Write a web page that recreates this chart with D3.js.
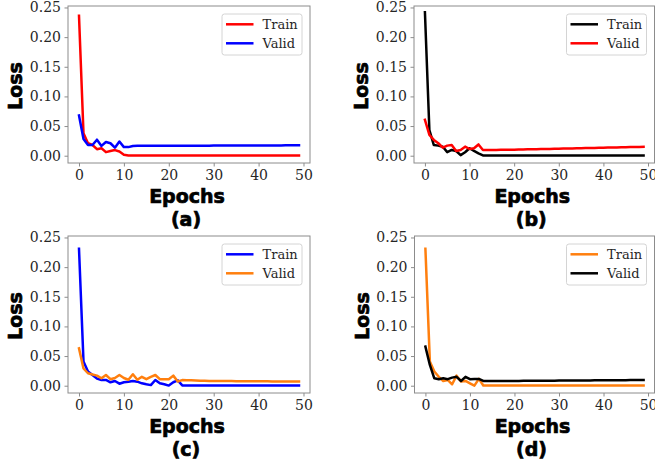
<!DOCTYPE html>
<html>
<head>
<meta charset="utf-8">
<script src="https://cdn.jsdelivr.net/npm/d3@7"></script>
<style>
  html, body { margin: 0; padding: 0; background: #fff; }
  svg { display: block; }
</style>
</head>
<body>
<svg id="chart" width="655" height="464"></svg>
<script>
// Loss curves for four training runs, 50 epochs each.
const xTicks = [0, 10, 20, 30, 40, 50];
const yTicks = [0.00, 0.05, 0.10, 0.15, 0.20, 0.25];
const seriesNames = ["Train", "Valid"];
const panelLetters = ["(a)", "(b)", "(c)", "(d)"];

const trainA = [
  0.236, 0.038, 0.021, 0.018, 0.011, 0.0125, 0.006, 0.008, 0.0095, 0.007,
  0.0015, 0.0005, 0.0004, 0.0004, 0.0003, 0.0003, 0.0003, 0.0003, 0.0003, 0.0003,
  0.0003, 0.0003, 0.0003, 0.0003, 0.0003, 0.0003, 0.0003, 0.0003, 0.0003, 0.0003,
  0.0003, 0.0003, 0.0003, 0.0003, 0.0003, 0.0003, 0.0003, 0.0003, 0.0003, 0.0003,
  0.0003, 0.0003, 0.0003, 0.0003, 0.0003, 0.0003, 0.0003, 0.0003, 0.0003, 0.0003
];
const validA = [
  0.068, 0.028, 0.018, 0.018, 0.027, 0.0165, 0.023, 0.021, 0.0135, 0.024,
  0.0145, 0.0145, 0.0165, 0.017, 0.017, 0.017, 0.017, 0.017, 0.017, 0.017,
  0.017, 0.017, 0.017, 0.017, 0.017, 0.017, 0.017, 0.017, 0.017, 0.017,
  0.0171, 0.0171, 0.0171, 0.0171, 0.0171, 0.0172, 0.0172, 0.0172, 0.0172, 0.0172,
  0.0173, 0.0173, 0.0173, 0.0174, 0.0174, 0.0174, 0.0175, 0.0175, 0.0175, 0.0175
];
const trainB = [
  0.242, 0.043, 0.018, 0.017, 0.015, 0.006, 0.0097, 0.008, 0.001, 0.0058,
  0.0125, 0.008, 0.004, 0.0005, 0.0003, 0.0003, 0.0003, 0.0003, 0.0003, 0.0003,
  0.0003, 0.0003, 0.0003, 0.0003, 0.0003, 0.0003, 0.0003, 0.0003, 0.0003, 0.0003,
  0.0003, 0.0003, 0.0003, 0.0003, 0.0003, 0.0003, 0.0003, 0.0003, 0.0003, 0.0003,
  0.0003, 0.0003, 0.0003, 0.0003, 0.0003, 0.0003, 0.0003, 0.0003, 0.0003, 0.0003
];
const validB = [
  0.0605, 0.035, 0.0266, 0.021, 0.0136, 0.017, 0.018, 0.008, 0.0097, 0.0153,
  0.0113, 0.0125, 0.019, 0.0097, 0.0097, 0.0098, 0.0098, 0.0099, 0.0099, 0.0100,
  0.0102, 0.0103, 0.0105, 0.0107, 0.0108, 0.0110, 0.0112, 0.0113, 0.0115, 0.0117,
  0.0118, 0.0120, 0.0122, 0.0123, 0.0125, 0.0127, 0.0128, 0.0130, 0.0132, 0.0133,
  0.0135, 0.0137, 0.0138, 0.0140, 0.0142, 0.0143, 0.0145, 0.0147, 0.0148, 0.0150
];
const trainC = [
  0.231, 0.041, 0.024, 0.018, 0.012, 0.0097, 0.0097, 0.0058, 0.008, 0.0034,
  0.0058, 0.0068, 0.008, 0.0068, 0.004, 0.0024, 0.001, 0.0097, 0.004, 0.0024,
  0.0002, 0.0058, 0.009, 0.0005, 0.0003, 0.0003, 0.0003, 0.0003, 0.0003, 0.0003,
  0.0003, 0.0003, 0.0003, 0.0003, 0.0003, 0.0003, 0.0003, 0.0003, 0.0003, 0.0003,
  0.0003, 0.0003, 0.0003, 0.0003, 0.0003, 0.0003, 0.0003, 0.0003, 0.0003, 0.0003
];
const validC = [
  0.063, 0.029, 0.021, 0.019, 0.017, 0.0125, 0.018, 0.011, 0.013, 0.018,
  0.013, 0.010, 0.0193, 0.010, 0.015, 0.011, 0.015, 0.018, 0.011, 0.011,
  0.011, 0.017, 0.007, 0.0095, 0.0092, 0.0090, 0.0088, 0.0085, 0.0083, 0.0080,
  0.0080, 0.0079, 0.0079, 0.0078, 0.0078, 0.0077, 0.0077, 0.0076, 0.0076, 0.0075,
  0.0075, 0.0074, 0.0074, 0.0073, 0.0073, 0.0072, 0.0072, 0.0071, 0.0071, 0.0070
];
const trainD = [
  0.231, 0.041, 0.024, 0.015, 0.008, 0.0097, 0.0024, 0.017, 0.007, 0.008,
  0.004, 0.0002, 0.0115, 0.0003, 0.0003, 0.0003, 0.0003, 0.0003, 0.0003, 0.0003,
  0.0003, 0.0003, 0.0003, 0.0003, 0.0003, 0.0003, 0.0003, 0.0003, 0.0003, 0.0003,
  0.0003, 0.0003, 0.0003, 0.0003, 0.0003, 0.0003, 0.0003, 0.0003, 0.0003, 0.0003,
  0.0003, 0.0003, 0.0003, 0.0003, 0.0003, 0.0003, 0.0003, 0.0003, 0.0003, 0.0003
];
const validD = [
  0.066, 0.035, 0.0125, 0.011, 0.0125, 0.011, 0.0136, 0.015, 0.008, 0.015,
  0.011, 0.0115, 0.0115, 0.008, 0.008, 0.008, 0.008, 0.008, 0.008, 0.008,
  0.0081, 0.0081, 0.0082, 0.0082, 0.0083, 0.0083, 0.0084, 0.0084, 0.0085, 0.0085,
  0.0086, 0.0086, 0.0087, 0.0087, 0.0088, 0.0088, 0.0089, 0.0089, 0.0090, 0.0090,
  0.0091, 0.0091, 0.0092, 0.0092, 0.0093, 0.0094, 0.0095, 0.0096, 0.0097, 0.0097
];

const panels = [
  { letter: panelLetters[0], train: trainA, valid: validA, colors: ["#ff0000", "#0000ff"], box: [68, 310, 6, 163] },
  { letter: panelLetters[1], train: trainB, valid: validB, colors: ["#000000", "#ff0000"], box: [414, 654.5, 6, 163] },
  { letter: panelLetters[2], train: trainC, valid: validC, colors: ["#0000ff", "#ff7f0e"], box: [68, 310, 236, 393] },
  { letter: panelLetters[3], train: trainD, valid: validD, colors: ["#ff7f0e", "#000000"], box: [414.5, 654.5, 236, 393] }
];

const svg = d3.select("#chart");
svg.append("rect").attr("width", 655).attr("height", 464).attr("fill", "#fff");

const serif = "'DejaVu Serif', serif";
const sans = "'DejaVu Sans', sans-serif";
const frameColor = "#8c8c8c";

panels.forEach(p => {
  const [x0, x1, y0, y1] = p.box;
  const x = d3.scaleLinear().domain([-2.45, 51.45]).range([x0, x1]);
  const y = d3.scaleLinear().domain([-0.0123, 0.2525]).range([y1, y0]);
  const g = svg.append("g");

  // axes
  const xAxis = d3.axisBottom(x).tickValues(xTicks).tickSize(3.5).tickPadding(4).tickFormat(d3.format("d"));
  const yAxis = d3.axisLeft(y).tickValues(yTicks).tickSize(3.5).tickPadding(3.5).tickFormat(d3.format(".2f"));

  const gx = g.append("g").attr("transform", `translate(0,${y1})`).call(xAxis);
  const gy = g.append("g").attr("transform", `translate(${x0},0)`).call(yAxis);
  [gx, gy].forEach(a => {
    a.select(".domain").remove();
    a.selectAll(".tick line").attr("stroke", frameColor).attr("stroke-width", 1);
    a.selectAll(".tick text")
      .attr("fill", "#262626")
      .style("font-family", serif)
      .style("font-size", "14px");
  });

  // lines
  const line = d3.line()
    .x((d, i) => x(i))
    .y(d => y(d));
  [p.train, p.valid].forEach((series, k) => {
    g.append("path")
      .datum(series)
      .attr("d", line)
      .attr("fill", "none")
      .attr("stroke", p.colors[k])
      .attr("stroke-width", 2.5)
      .attr("stroke-linejoin", "round")
      .attr("stroke-linecap", "square");
  });

  // frame
  g.append("rect")
    .attr("x", x0).attr("y", y0)
    .attr("width", x1 - x0).attr("height", y1 - y0)
    .attr("fill", "none")
    .attr("stroke", frameColor)
    .attr("stroke-width", 1);

  // legend
  const lw = 80, lh = 41;
  const lx = x1 - 8 - lw, ly = y0 + 8;
  const leg = g.append("g").attr("transform", `translate(${lx},${ly})`);
  leg.append("rect")
    .attr("x", 0).attr("y", 0).attr("width", lw).attr("height", lh)
    .attr("rx", 2.5)
    .attr("fill", "#fff").attr("fill-opacity", 0.8)
    .attr("stroke", "#d4d4d4").attr("stroke-width", 1);
  seriesNames.forEach((name, k) => {
    const cy = 10.3 + k * 19;
    leg.append("line")
      .attr("x1", 4).attr("x2", 31.5).attr("y1", cy).attr("y2", cy)
      .attr("stroke", p.colors[k]).attr("stroke-width", 2.5);
    leg.append("text")
      .attr("x", 40.5).attr("y", cy + 4.5)
      .attr("fill", "#262626")
      .style("font-family", serif)
      .style("font-size", "13px")
      .text(name);
  });

  // axis titles and panel letter
  const cx = (x0 + x1) / 2;
  const bold = sel => sel
    .attr("fill", "#000").attr("stroke", "#000").attr("stroke-width", 0.7)
    .style("font-family", sans).style("font-weight", "bold").style("font-size", "19px");
  g.append("text")
    .attr("transform", `translate(${x0 - 53},${(y0 + y1) / 2 + 1.5}) rotate(-90)`)
    .attr("text-anchor", "middle")
    .attr("dominant-baseline", "central")
    .call(bold)
    .text("Loss");
  g.append("text")
    .attr("x", cx - 2).attr("y", y1 + 40)
    .attr("text-anchor", "middle")
    .call(bold)
    .text("Epochs");
  g.append("text")
    .attr("x", cx - 3).attr("y", y1 + 62.5)
    .attr("text-anchor", "middle")
    .call(bold)
    .text(p.letter);
});
</script>
</body>
</html>
